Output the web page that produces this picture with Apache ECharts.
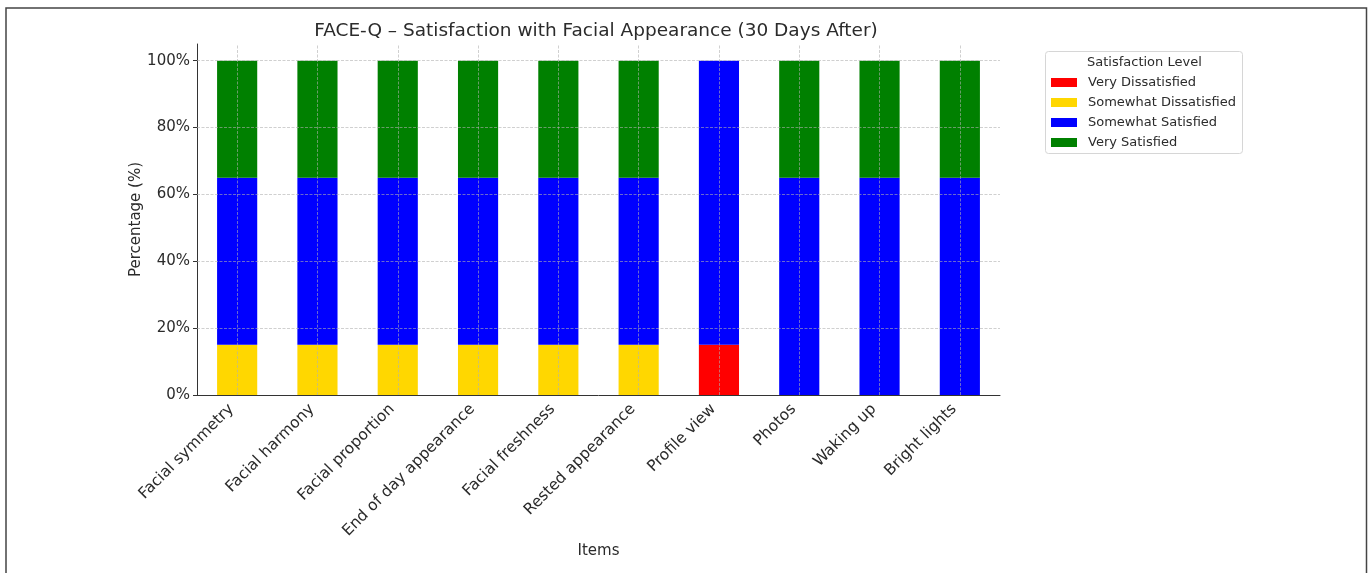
<!DOCTYPE html>
<html>
<head>
<meta charset="utf-8">
<script src="https://cdn.jsdelivr.net/npm/echarts@6/dist/echarts.min.js"></script>
<style>
  html, body { margin: 0; padding: 0; background: #fff; }
  #chart { width: 1370px; height: 573px; }
</style>
</head>
<body>
<div id="chart"></div>
<script>
// FACE-Q item categories
const items = [
  'Facial symmetry', 'Facial harmony', 'Facial proportion', 'End of day appearance',
  'Facial freshness', 'Rested appearance', 'Profile view', 'Photos', 'Waking up', 'Bright lights'
];

// Percentage of responses per satisfaction level
const veryDissatisfied     = [0, 0, 0, 0, 0, 0, 15, 0, 0, 0];
const somewhatDissatisfied = [15, 15, 15, 15, 15, 15, 0, 0, 0, 0];
const somewhatSatisfied    = [50, 50, 50, 50, 50, 50, 85, 65, 65, 65];
const verySatisfied        = [35, 35, 35, 35, 35, 35, 0, 35, 35, 35];

// Y axis ticks (percent)
const yTicks = [0, 20, 40, 60, 80, 100];

const levels = [
  { name: 'Very Dissatisfied', data: veryDissatisfied, color: '#FF0000' },
  { name: 'Somewhat Dissatisfied', data: somewhatDissatisfied, color: '#FFD700' },
  { name: 'Somewhat Satisfied', data: somewhatSatisfied, color: '#0000FF' },
  { name: 'Very Satisfied', data: verySatisfied, color: '#008000' }
];

const textColor = '#2b2b2b';
const font = 'DejaVu Sans';
const gridLineStyle = { color: 'rgba(176,176,176,0.75)', width: 0.8, type: [3, 1.5] };

const series = levels.map(l => ({
  name: l.name,
  type: 'bar',
  stack: 'total',
  barWidth: '50%',
  data: l.data,
  itemStyle: { color: l.color },
  emphasis: { disabled: true }
}));

// Dashed grid drawn above the bars (centred on each category)
series.push({
  name: 'grid',
  type: 'line',
  data: [],
  silent: true,
  symbol: 'none',
  markLine: {
    silent: true,
    symbol: 'none',
    label: { show: false },
    lineStyle: gridLineStyle,
    z: 5,
    data: items.map(c => ({ xAxis: c })).concat(yTicks.slice(1).map(v => ({ yAxis: v })))
  }
});

const chart = echarts.init(document.getElementById('chart'), null, { renderer: 'canvas' });
chart.setOption({
  animation: false,
  backgroundColor: '#fff',
  textStyle: { fontFamily: font },
  title: {
    text: 'FACE-Q – Satisfaction with Facial Appearance (30 Days After)',
    left: 591, textAlign: 'center', top: 17,
    textStyle: { fontFamily: font, fontSize: 18.5, fontWeight: 'normal', color: textColor }
  },
  legend: {
    data: levels.map(l => l.name),
    orient: 'vertical',
    left: 1051, top: 76,
    padding: 0,
    itemWidth: 26, itemHeight: 9, itemGap: 7,
    icon: 'rect',
    selectedMode: false,
    textStyle: { fontFamily: font, fontSize: 13, color: textColor, padding: [0, 0, 0, 6] }
  },
  graphic: [
    {
      type: 'rect', silent: true,
      shape: { x: 6, y: 8, width: 1360.5, height: 620 },
      style: { fill: 'none', stroke: '#444', lineWidth: 1.5 }
    },
    {
      type: 'rect', silent: true,
      shape: { x: 1045.5, y: 51.5, width: 197, height: 102, r: 3 },
      style: { fill: '#fff', stroke: '#d6d6d6', lineWidth: 1 },
      z: -1
    },
    {
      type: 'text', left: 1087, top: 56, silent: true,
      style: { text: 'Satisfaction Level', fontFamily: font, fontSize: 13, fill: textColor }
    }
  ],
  grid: { left: 197, right: 370, top: 44, bottom: 178, containLabel: false },
  xAxis: {
    type: 'category',
    data: items,
    boundaryGap: true,
    name: 'Items',
    nameLocation: 'middle',
    nameGap: 149,
    nameMoveOverlap: false,
    nameTextStyle: { fontFamily: font, fontSize: 15, color: textColor },
    axisLine: { lineStyle: { color: '#333', width: 1 } },
    axisTick: { alignWithLabel: true, length: 4, lineStyle: { color: '#333' } },
    axisLabel: {
      interval: 0, rotate: 45, margin: 6, padding: [0, 8, 0, 0],
      fontFamily: font, fontSize: 15.5, color: textColor
    },
    splitLine: { show: false }
  },
  yAxis: {
    type: 'value',
    min: 0, max: 105, interval: 20,
    name: 'Percentage (%)',
    nameLocation: 'middle',
    nameGap: 53,
    nameMoveOverlap: false,
    nameTextStyle: { fontFamily: font, fontSize: 15, color: textColor },
    axisLine: { show: true, lineStyle: { color: '#333', width: 1 } },
    axisTick: { show: true, length: 4, lineStyle: { color: '#333' }, customValues: yTicks },
    axisLabel: {
      customValues: yTicks,
      margin: 7, fontFamily: font, fontSize: 15, color: textColor,
      formatter: v => (v % 20 === 0 ? v + '%' : '')
    },
    splitLine: { show: false }
  },
  series: series
});
</script>
</body>
</html>
